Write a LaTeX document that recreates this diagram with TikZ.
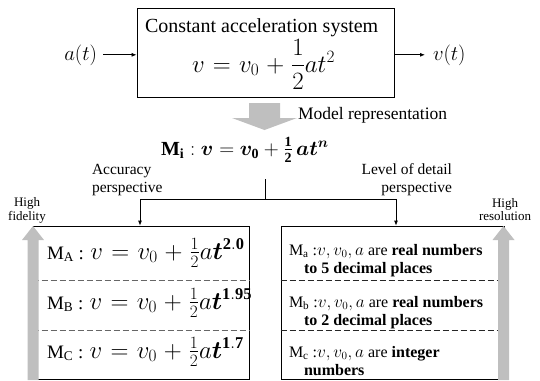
\documentclass[tikz,border=0pt]{standalone}
\usepackage{amsmath}
\usepackage{fontspec}
\setmainfont{Liberation Serif}
\usetikzlibrary{arrows.meta}
\DeclareMathAlphabet{\mathbit}{OML}{cmm}{b}{it}
\definecolor{arrowgray}{RGB}{191,191,191}
\newcommand{\MiFormula}{$\mathbf{M}_{\mathbf{i}}\;\mathbf{:}\;\mathbit{v}\mathrel{\mathbf{=}}\mathbit{v}_{\mathbf{0}}\mathbin{\mathbf{+}}\tfrac{\mathbf{1}}{\mathbf{2}}\,\mathbit{at}^{\mathbit{n}}$}
\newcommand{\RowMath}[1]{{\fontsize{23.5}{26}\selectfont$\thickmuskip=6mu plus 2mu\medmuskip=5mu plus 2mu #1$}}
\begin{document}
\begin{tikzpicture}[x=1pt,y=-1pt,
  box/.style={draw, line width=0.9pt, inner sep=0pt},
  conn/.style={line width=0.8pt, -{Latex[length=5pt,width=4pt]}},
  plain/.style={line width=0.8pt},
  lbl/.style={inner sep=0pt, outer sep=0pt},
  sepA/.style={dash pattern=on 6pt off 3pt, line width=0.8pt, draw=black!60},
  sepB/.style={dash pattern=on 6pt off 3pt, line width=0.8pt, draw=black!85},
  rowA/.style={lbl, anchor=base west, font=\fontsize{19}{22}\selectfont},
  rowB/.style={lbl, anchor=base west, align=left, font=\fontsize{16}{18}\selectfont}
]
\useasboundingbox (0,0) rectangle (540,380);

% top system box
\node[box, minimum width=257pt, minimum height=89pt] (sys) at (265.5,52.5) {};
\node[lbl, anchor=base west, font=\fontsize{20}{22}\selectfont] (title) at (145,32) {Constant acceleration system};
\node[lbl, anchor=base west, font=\fontsize{25}{28}\selectfont] (eq) at (192,72) {$\thickmuskip=6mu plus 2mu\medmuskip=5mu plus 2mu v = v_0 + \dfrac{1}{2}at^2$};

\node[lbl, anchor=base east, font=\fontsize{21}{24}\selectfont] (in) at (97,60) {$a(t)$};
\node[lbl, anchor=base west, font=\fontsize{21}{24}\selectfont] (out) at (433,60) {$v(t)$};
\draw[conn] ([xshift=6pt]in.east) -- (in.east -| sys.west);
\draw[conn] (out.west -| sys.east) -- ([xshift=-8pt]out.west);

% model representation arrow
\fill[arrowgray] (249,103) -- (280,103) -- (280,118) -- (297,118) -- (264.5,130) -- (232,118) -- (249,118) -- cycle;
\node[lbl, anchor=base west, font=\fontsize{17.5}{20}\selectfont] (mr) at (298,119) {Model representation};

% general model
\node[lbl, anchor=base west, font=\fontsize{20}{24}\selectfont] (mi) at (161,155) {\MiFormula};

% perspectives
\node[lbl, anchor=west, align=left, font=\fontsize{15.5}{18}\selectfont] (acc) at (92,180) {Accuracy\\perspective};
\node[lbl, anchor=east, align=right, font=\fontsize{15.5}{18}\selectfont] (lod) at (452,180) {Level of detail\\perspective};

% boxes
\node[box, line width=0.8pt, minimum width=216pt, minimum height=153pt] (boxA) at (141,302.5) {};
\node[box, line width=0.8pt, minimum width=223pt, minimum height=153pt] (boxB) at (392.5,302.5) {};

% split connector
\coordinate (stem) at (265,179);
\coordinate (split) at (265,199);
\coordinate (hl) at (140,199);
\coordinate (hr) at (396,199);
\draw[plain] (stem) -- (split);
\draw[plain] (hl) -- (hr);
\draw[conn] (hl) -- (hl |- boxA.north);
\draw[conn] (hr) -- (hr |- boxB.north);

% dashed separators
\draw[sepA] (boxA.west |- 0,280) -- (boxA.east |- 0,280);
\draw[sepA] (boxA.west |- 0,330) -- (boxA.east |- 0,330);
\draw[sepB] (boxB.west |- 0,280) -- (boxB.east |- 0,280);
\draw[sepB] (boxB.west |- 0,330) -- (boxB.east |- 0,330);

% left rows
\node[rowA] (ma) at (47,259) {M$_{\mathrm{A}}$ : \RowMath{v = v_0 + \frac{1}{2}a\mathbit{t}^{\mathbf{2.0}}}};
\node[rowA] (mb) at (47,309) {M$_{\mathrm{B}}$ : \RowMath{v = v_0 + \frac{1}{2}a\mathbit{t}^{\mathbf{1.95}}}};
\node[rowA] (mc) at (47,358) {M$_{\mathrm{C}}$ : \RowMath{v = v_0 + \frac{1}{2}a\mathbit{t}^{\mathbf{1.7}}}};

% right rows
\node[rowB] (ra) at (289,273) {M$_{\mathrm{a}}$ :$v, v_0, a$ are \textbf{real numbers}\\\hspace*{15pt}\textbf{to 5 decimal places}};
\node[rowB] (rb) at (289,325) {M$_{\mathrm{b}}$ :$v, v_0, a$ are \textbf{real numbers}\\\hspace*{15pt}\textbf{to 2 decimal places}};
\node[rowB] (rc) at (289,375) {M$_{\mathrm{c}}$ :$v, v_0, a$ are \textbf{integer}\\\hspace*{15pt}\textbf{numbers}};

% gray vertical arrows
\fill[arrowgray] (27.5,380) -- (38.5,380) -- (38.5,240) -- (44,240) -- (33,226) -- (22,240) -- (27.5,240) -- cycle;
\fill[arrowgray] (498,380) -- (509,380) -- (509,240) -- (514.5,240) -- (503.5,226) -- (492.5,240) -- (498,240) -- cycle;

\node[lbl, align=center, font=\fontsize{13}{13.5}\selectfont] (hf) at (27,210.5) {High\\fidelity};
\node[lbl, align=center, font=\fontsize{13}{13.5}\selectfont] (hres) at (505,209.5) {High\\resolution};
\end{tikzpicture}
\end{document}
